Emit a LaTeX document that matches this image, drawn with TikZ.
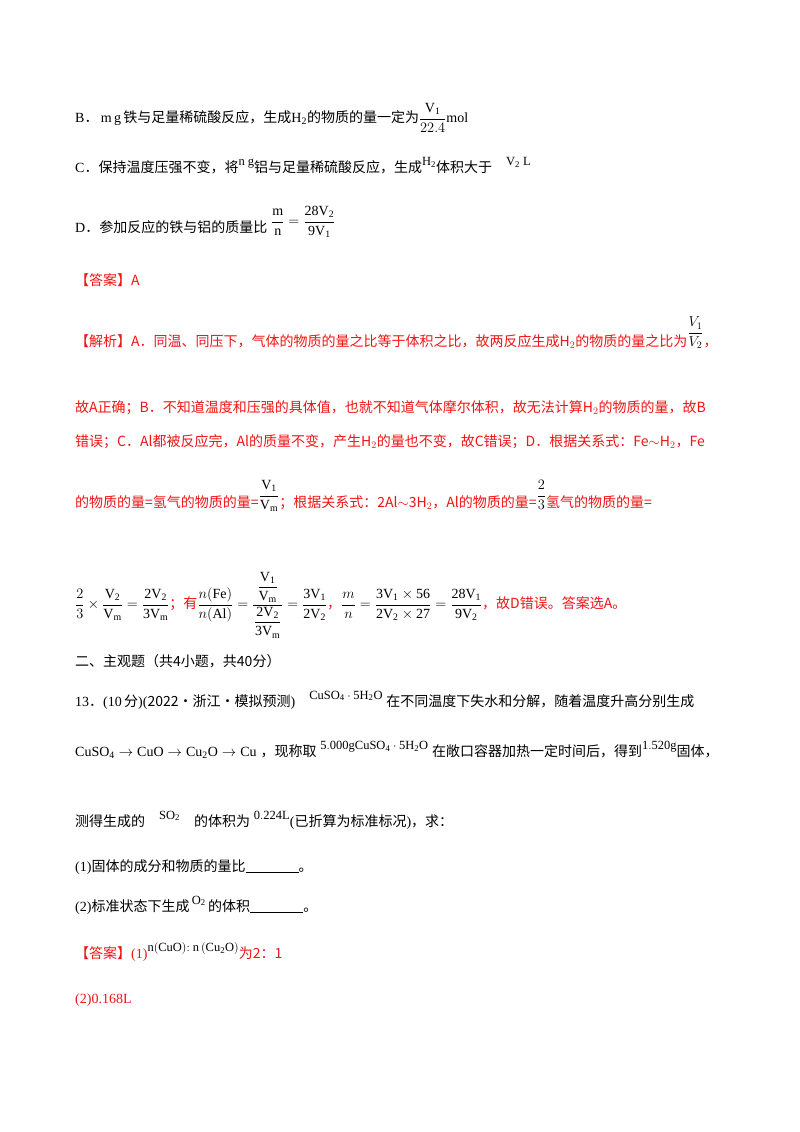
\documentclass[tikz,border=0pt]{standalone}
\usepackage{amsmath}
\usepackage{fontspec}
\setmainfont{Liberation Serif}
\newfontfamily\cjk{Noto Sans CJK SC}
\definecolor{ans}{RGB}{240,20,20}
\newcommand{\up}[1]{\raisebox{7pt}{\fontsize{12.5}{14}\selectfont #1}}
\begin{document}
\begin{tikzpicture}[x=1pt,y=-1pt,
  t/.style={anchor=west,inner sep=0pt,font=\fontsize{14}{16}\selectfont},
  r/.style={t,text=ans}]
\useasboundingbox (0,0) rectangle (800,1132);
\fill[white] (0,0) rectangle (800,1132);
\node[t] (b) at (75,118) {B{\cjk ．}\,$\mathrm{m\,g}$\,{\cjk 铁与足量稀硫酸反应，生成}$\mathrm{H_2}${\cjk 的物质的量一定为}$\dfrac{\mathrm{V_1}}{22.4}\mathrm{mol}$};
\node[t] (c) at (75,166) {C{\cjk ．保持温度压强不变，将}\up{$\mathrm{n\ g}$}{\cjk 铝与足量稀硫酸反应，生成}\up{$\mathrm{H_2}$}{\cjk 体积大于}\quad\up{$\mathrm{V_2\ L}$}};
\node[t] (d) at (75,222) {D{\cjk ．参加反应的铁与铝的质量比}\;\raisebox{7pt}{$\dfrac{\mathrm{m}}{\mathrm{n}}=\dfrac{\mathrm{28V_2}}{\mathrm{9V_1}}$}};
\node[r] (a1) at (75,280) {\cjk 【答案】A};
\node[r] (j1) at (75,333) {\cjk 【解析】A．同温、同压下，气体的物质的量之比等于体积之比，故两反应生成H$_2$的物质的量之比为\textcolor{black}{\raisebox{10pt}{$\dfrac{V_1}{V_2}$}}，};
\node[r] (j2) at (75,408) {\cjk 故A正确；B．不知道温度和压强的具体值，也就不知道气体摩尔体积，故无法计算H$_2$的物质的量，故B};
\node[r] (j3) at (75,442) {\cjk 错误；C．Al都被反应完，Al的质量不变，产生H$_2$的量也不变，故C错误；D．根据关系式：Fe$\sim$H$_2$，Fe};
\node[r] (j4) at (75,496) {\cjk 的物质的量=氢气的物质的量=\textcolor{black}{\raisebox{8pt}{$\dfrac{\mathrm{V_1}}{\mathrm{V_m}}$}}；根据关系式：2Al$\sim$3H$_2$，Al的物质的量=\textcolor{black}{\raisebox{8pt}{$\dfrac{2}{3}$}}氢气的物质的量=};
\node[r] (j5) at (75,605) {\textcolor{black}{$\dfrac{2}{3}\times\dfrac{\mathrm{V_2}}{\mathrm{V_m}}=\dfrac{\mathrm{2V_2}}{\mathrm{3V_m}}$}\cjk ；有\textcolor{black}{$\dfrac{n(\mathrm{Fe})}{n(\mathrm{Al})}=\dfrac{\;\dfrac{\mathrm{V_1}}{\mathrm{V_m}}\;}{\dfrac{\mathrm{2V_2}}{\mathrm{3V_m}}}=\dfrac{\mathrm{3V_1}}{\mathrm{2V_2}}$}，\textcolor{black}{$\dfrac{m}{n}=\dfrac{\mathrm{3V_1\times56}}{\mathrm{2V_2\times27}}=\dfrac{\mathrm{28V_1}}{\mathrm{9V_2}}$}，故D错误。答案选A。};
\node[t] (s) at (75,661) {\cjk 二、主观题（共4小题，共40分）};
\node[t] (q) at (75,700) {13{\cjk ．}(10\,{\cjk 分})({\cjk 2022·浙江·模拟预测})\quad\up{$\mathrm{CuSO_4\cdot5H_2O}$}\;{\cjk 在不同温度下失水和分解，随着温度升高分别生成}};
\node[t] (q2) at (75,750) {$\mathrm{CuSO_4\to CuO\to Cu_2O\to Cu}$\;{\cjk ，现称取}\;\up{$\mathrm{5.000gCuSO_4\cdot5H_2O}$}\;{\cjk 在敞口容器加热一定时间后，得到}\up{$\mathrm{1.520g}$}{\cjk 固体，}};
\node[t] (q3) at (75,820) {{\cjk 测得生成的}\quad\up{$\mathrm{SO_2}$}\quad{\cjk 的体积为}\;\up{$\mathrm{0.224L}$}({\cjk 已折算为标准标况})\cjk ，求：};
\node[t] (q4) at (75,867) {(1){\cjk 固体的成分和物质的量比}\rule[-1pt]{3.8em}{0.5pt}{\cjk 。}};
\node[t] (q5) at (75,905) {(2){\cjk 标准状态下生成}\,\up{$\mathrm{O_2}$}\,{\cjk 的体积}\rule[-1pt]{3.8em}{0.5pt}{\cjk 。}};
\node[r] (a2) at (75,952) {{\cjk 【答案】}(1)\textcolor{black}{\up{$\mathrm{n(CuO)}{:}\ \mathrm{n}\left(\mathrm{Cu_2O}\right)$}}{\cjk 为2：1}};
\node[r] (a3) at (75,1000) {(2)0.168L};
\end{tikzpicture}
\end{document}
